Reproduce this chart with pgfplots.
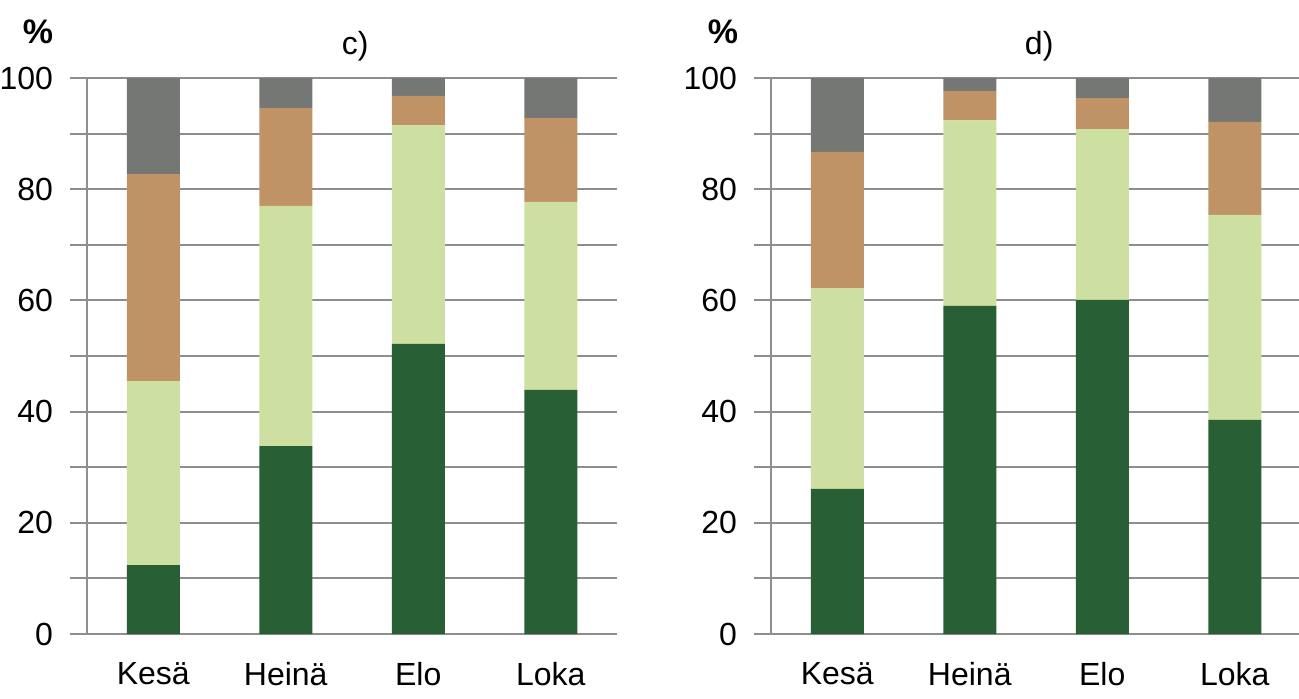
\documentclass[border=0pt]{standalone}
\usepackage{pgfplots}
\pgfplotsset{compat=1.18}
\usepackage{fontspec}
\setmainfont{Liberation Sans}

\definecolor{dkgreen}{HTML}{285F35}
\definecolor{ltgreen}{HTML}{CDE0A2}
\definecolor{tan}{HTML}{C09366}
\definecolor{dgray}{HTML}{757775}
\definecolor{gridgray}{HTML}{8E8E8E}

\pgfplotsset{
  panel/.style={
    scale only axis, width=265pt, height=278pt,
    xmin=-0.5, xmax=3.5, ymin=0, ymax=100,
    ybar stacked, bar width=26.5pt,
    xtick={0,1,2,3}, xticklabels={Kesä,Heinä,Elo,Loka},
    ytick={0,20,...,100}, minor ytick={10,30,...,90},
    ymajorgrids, yminorgrids,
    grid style={draw=gridgray, line width=1pt},
    minor grid style={draw=gridgray, line width=1pt},
    axis x line*=bottom, axis y line*=left,
    axis line style={draw=gridgray, line width=1pt},
    tick align=outside, ytick pos=left,
    major tick length=8.5pt, minor tick length=8.5pt,
    ytick style={draw=gridgray, line width=1pt},
    xtick style={draw=none},
    tick label style={font=\fontsize{16}{16}\selectfont},
    yticklabel style={xshift=-5pt},
    xticklabel style={yshift=-2pt},
    /pgf/number format/assume math mode=true,
    every axis plot/.append style={draw=none},
    title style={at={(0.506,1)}, anchor=center, yshift=10pt,
      font=\fontsize{16}{16}\selectfont},
    clip=false,
  },
}

\begin{document}
\begin{tikzpicture}
\path[use as bounding box] (0,0) rectangle (649.5pt,349pt);

\begin{axis}[panel, at={(43.5pt,32pt)}, anchor=south west, title={c)}]
  \addplot[fill=dkgreen] coordinates {(0,12.4) (1,33.8) (2,52.2) (3,43.9)};
  \addplot[fill=ltgreen] coordinates {(0,33.1) (1,43.2) (2,39.3) (3,33.8)};
  \addplot[fill=tan]     coordinates {(0,37.2) (1,17.6) (2,5.3)  (3,15.1)};
  \addplot[fill=dgray]   coordinates {(0,17.3) (1,5.4)  (2,3.2)  (3,7.2)};
  \node[font=\bfseries\fontsize{17}{17}\selectfont] at (rel axis cs:0,1) [xshift=-24.5pt, yshift=23pt] {\%};
\end{axis}

\begin{axis}[panel, at={(385.5pt,32pt)}, anchor=south west, title={d)}]
  \addplot[fill=dkgreen] coordinates {(0,26.1) (1,59.0) (2,60.1) (3,38.5)};
  \addplot[fill=ltgreen] coordinates {(0,36.1) (1,33.4) (2,30.7) (3,36.9)};
  \addplot[fill=tan]     coordinates {(0,24.5) (1,5.3)  (2,5.6)  (3,16.7)};
  \addplot[fill=dgray]   coordinates {(0,13.3) (1,2.3)  (2,3.6)  (3,7.9)};
  \node[font=\bfseries\fontsize{17}{17}\selectfont] at (rel axis cs:0,1) [xshift=-24pt, yshift=23pt] {\%};
\end{axis}
\end{tikzpicture}
\end{document}
